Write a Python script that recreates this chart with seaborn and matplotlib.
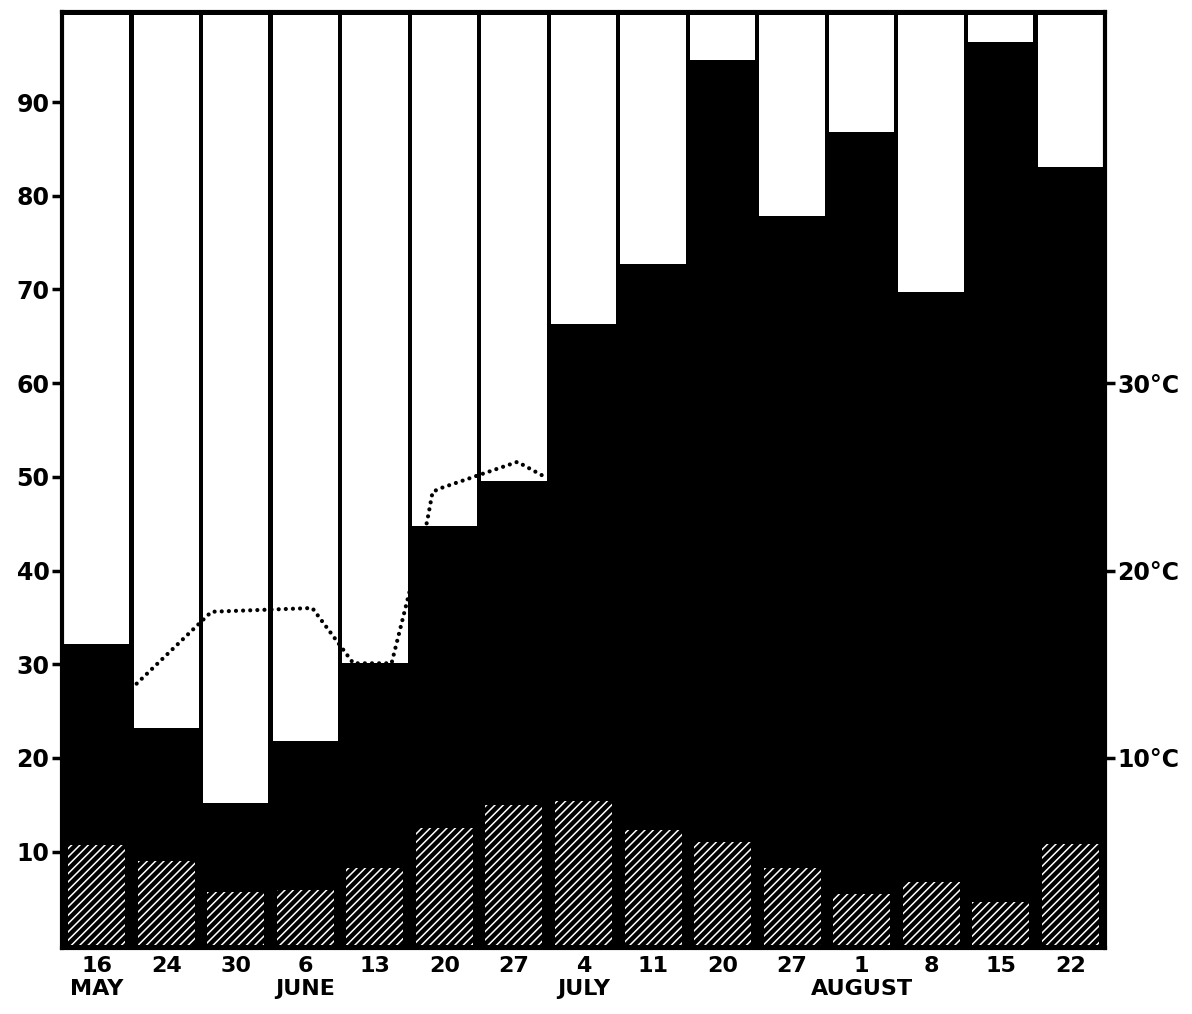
import seaborn as sns
import matplotlib.pyplot as plt

# -------------------------------
# STYLE SETTINGS
# -------------------------------
sns.set_theme(style="white")
plt.rcParams["font.family"] = ["DejaVu Sans"]
plt.rcParams["font.weight"] = "bold"
plt.rcParams["text.color"] = "black"
plt.rcParams["xtick.color"] = "black"
plt.rcParams["ytick.color"] = "black"
plt.rcParams["hatch.linewidth"] = 1.1
plt.rcParams["hatch.color"] = "white"

# -------------------------------
# DATA
# -------------------------------
dates = ["16 May", "24 May", "30 May", "6 Jun", "13 Jun", "20 Jun", "27 Jun",
         "4 Jul", "11 Jul", "20 Jul", "27 Jul", "1 Aug", "8 Aug", "15 Aug", "22 Aug"]
day_labels = ["16\nMAY", "24", "30", "6\nJUNE", "13", "20", "27",
              "4\nJULY", "11", "20", "27", "1\nAUGUST", "8", "15", "22"]

# black column height (left scale, %)
pct = [32.2, 23.2, 15.2, 21.8, 30.1, 44.8, 49.6, 66.3, 72.7, 94.5, 77.8, 86.8, 69.7, 96.4, 83.1]
# hatched part at the foot of each column
hatched = [10.7, 9.0, 5.7, 5.9, 8.3, 12.5, 15.0, 15.4, 12.3, 11.0, 8.2, 5.5, 6.8, 4.6, 10.8]

# temperature (dotted line), x in column units
temp_x = [0.5, 1.65, 3.10, 3.69, 4.24, 4.75, 4.83, 4.95, 6.05, 6.42]
temp_c = [13.7, 17.8, 18.0, 15.05, 15.05, 22.6, 24.2, 24.4, 25.8, 25.05]

y_top = 99.6
y_ticks = [10, 20, 30, 40, 50, 60, 70, 80, 90]
t_ticks = [10, 20, 30]

# the white (empty) part above each column
empty = [y_top - 0.35 - v for v in pct]

# -------------------------------
# FIGURE
# -------------------------------
fig = plt.figure(figsize=(11.92, 10.14), dpi=100)
ax = fig.add_axes([0.052, 0.065, 0.875, 0.923])
ax.set_facecolor("black")

sns.barplot(x=dates, y=empty, bottom=pct, color="white", width=0.94,
            saturation=1, linewidth=0, edgecolor="none", ax=ax)
sns.barplot(x=dates, y=hatched, color="black", width=0.82, saturation=1,
            hatch="////", edgecolor="white", linewidth=0, ax=ax)

ax.set_ylim(-0.3, y_top)
ax.set_yticks(y_ticks)
ax.set_yticklabels([str(v) for v in y_ticks], fontsize=17, fontweight="bold")
ax.tick_params(axis="y", left=True, direction="out", length=7, width=2.5,
               color="black", labelcolor="black", pad=2)

ax.set_xticks(range(len(dates)))
ax.set_xticklabels(day_labels, fontsize=16, fontweight="bold", linespacing=1.15)
ax.tick_params(axis="x", bottom=False, length=0, pad=6, labelcolor="black")
ax.set_xlabel("")
ax.set_ylabel("")

for s in ax.spines.values():
    s.set_color("black")
    s.set_linewidth(3)

# temperature on right axis
ax2 = ax.twinx()
sns.lineplot(x=temp_x, y=temp_c, color="black", linewidth=3.0,
             linestyle=(0, (0.01, 1.7)), dash_capstyle="round", ax=ax2)
ax2.set_ylim(-0.15, y_top / 2)
ax2.set_yticks(t_ticks)
ax2.set_yticklabels([f"{t}°C" for t in t_ticks], fontsize=17, fontweight="bold")
ax2.tick_params(axis="y", right=True, direction="out", length=7, width=2.5,
                color="black", labelcolor="black", pad=2)
for s in ax2.spines.values():
    s.set_visible(False)

ax.set_xlim(-0.5, len(dates) - 0.5)

fig.savefig("out.png", dpi=100)
